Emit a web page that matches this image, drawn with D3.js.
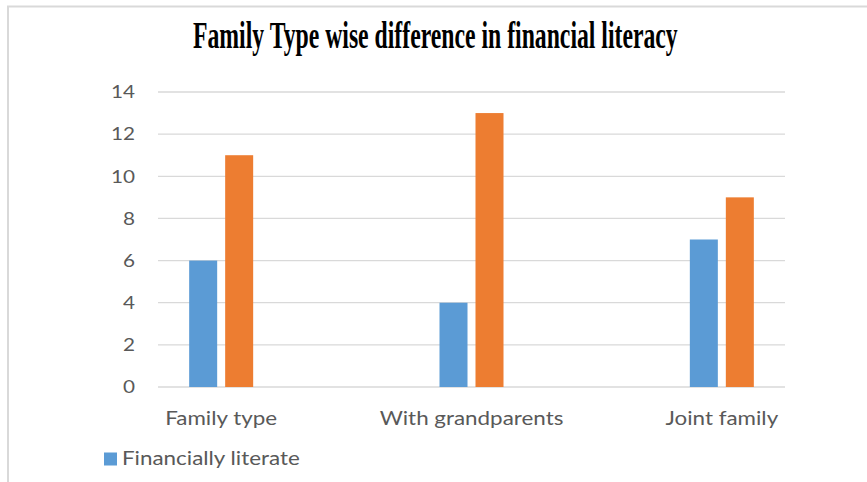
<!DOCTYPE html>
<html>
<head>
<meta charset="utf-8">
<script src="https://cdn.jsdelivr.net/npm/d3@7"></script>
<style>
  html, body { margin: 0; padding: 0; background: #ffffff; }
  svg { display: block; }
</style>
</head>
<body>
<svg id="chart" width="867" height="482"></svg>
<script>
// Chart data
const categories = ["Family type", "With grandparents", "Joint family"];
const seriesNames = ["Financially literate", "Financially illiterate"];
const literate = [6, 4, 7];
const illiterate = [11, 13, 9];
const yTicks = [0, 2, 4, 6, 8, 10, 12, 14];
const titleText = "Family Type wise difference in financial literacy";

const seriesValues = [literate, illiterate];
const colors = ["#5b9bd5", "#ed7d31"];
const legendShown = [seriesNames[0]];

const svg = d3.select("#chart");
const W = 867, H = 482;
const SANS = "Lato, 'Open Sans', sans-serif";
const STRETCH = 1.12; // slightly widened sans glyphs

// Widen a text horizontally around its own anchor point
function stretch(sel, k) {
  sel.each(function () {
    const ax = +this.getAttribute("x") || 0;
    d3.select(this).attr("transform",
      `translate(${ax},0) scale(${k},1) translate(${-ax},0)`);
  });
}

// Outer chart-area frame (top and left edges)
svg.append("path")
  .attr("d", `M8,${H} L8,6.5 L${W},6.5`)
  .attr("fill", "none")
  .attr("stroke", "#d9d9d9")
  .attr("stroke-width", 2);

// Title: condensed bold serif, scaled to its set width
const titleLeft = 193, titleWidth = 485;
const title = svg.append("text")
  .attr("x", 0)
  .attr("y", 48)
  .attr("font-family", "'Liberation Serif', 'Times New Roman', serif")
  .attr("font-weight", "bold")
  .attr("font-size", 37)
  .attr("fill", "#000000")
  .text(titleText);
const natural = title.node().getComputedTextLength();
title.attr("transform", `translate(${titleLeft},0) scale(${titleWidth / natural},1)`);

// Scales
const plotLeft = 158, plotRight = 785;
const y = d3.scaleLinear().domain([0, 14]).range([387, 92]);
const x = d3.scaleBand().domain(categories).range([96, 847]);
const xs = d3.scaleBand().domain(seriesNames).range([-32, 32]).paddingInner(0.222);

// Gridlines
svg.append("g")
  .selectAll("line")
  .data(yTicks)
  .join("line")
  .attr("x1", plotLeft)
  .attr("x2", plotRight)
  .attr("y1", d => y(d))
  .attr("y2", d => y(d))
  .attr("stroke", "#d9d9d9")
  .attr("stroke-width", 1.3);

// Y axis labels
const yAxis = d3.axisLeft(y).tickValues(yTicks).tickSize(0).tickPadding(0);
const gy = svg.append("g")
  .attr("transform", "translate(135,0)")
  .call(yAxis);
gy.select(".domain").remove();
gy.selectAll("text")
  .attr("font-family", SANS)
  .attr("font-size", 18)
  .attr("fill", "#595959")
  .call(stretch, 1.15);

// Bars
const groups = svg.append("g")
  .selectAll("g")
  .data(categories)
  .join("g")
  .attr("transform", d => `translate(${x(d) + x.bandwidth() / 2},0)`);

groups.selectAll("rect")
  .data((d, i) => seriesNames.map((s, j) => ({ s, v: seriesValues[j][i], c: colors[j] })))
  .join("rect")
  .attr("x", d => xs(d.s))
  .attr("width", xs.bandwidth())
  .attr("y", d => y(d.v))
  .attr("height", d => y(0) - y(d.v))
  .attr("fill", d => d.c);

// X axis labels
const xAxis = d3.axisBottom(x).tickSize(0).tickPadding(0);
const gx = svg.append("g")
  .attr("transform", "translate(0,411)")
  .call(xAxis);
gx.select(".domain").remove();
gx.selectAll("text")
  .attr("font-family", SANS)
  .attr("font-size", 20)
  .attr("fill", "#595959")
  .call(stretch, STRETCH);

// Legend
const legend = svg.append("g")
  .selectAll("g")
  .data(legendShown)
  .join("g")
  .attr("transform", "translate(104,452)");
legend.append("rect")
  .attr("y", 0.5)
  .attr("width", 13)
  .attr("height", 13)
  .attr("fill", (d, i) => colors[i]);
legend.append("text")
  .attr("x", 18)
  .attr("y", 13)
  .attr("font-family", SANS)
  .attr("font-size", 20)
  .attr("fill", "#595959")
  .text(d => d)
  .call(stretch, STRETCH);
</script>
</body>
</html>
